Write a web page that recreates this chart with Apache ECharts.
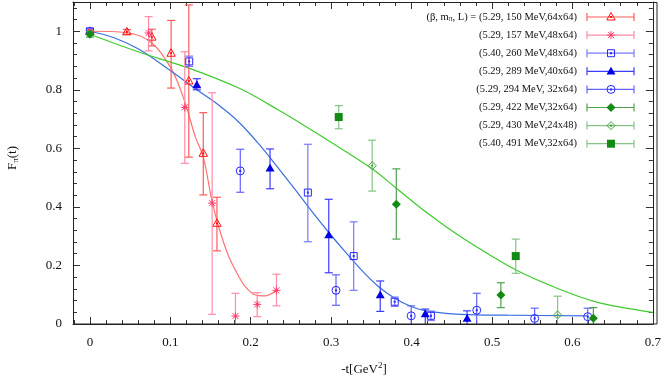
<!DOCTYPE html>
<html><head><meta charset="utf-8">
<script src="https://cdn.jsdelivr.net/npm/echarts@6/dist/echarts.min.js"></script>
<style>html,body{margin:0;padding:0;background:#fff}#c{width:664px;height:382px}</style>
</head><body><div id="c"></div>
<script>
// ---- data: [x, y, errLow, errHigh] ----
const xTicks = [0, 0.1, 0.2, 0.3, 0.4, 0.5, 0.6, 0.7];
const yTicks = [0, 0.2, 0.4, 0.6, 0.8, 1];
const legendLabels = [
  '(5.29, 150 MeV,64x64)', '(5.29, 157 MeV,48x64)', '(5.40, 260 MeV,48x64)', '(5.29, 289 MeV,40x64)',
  '(5.29, 294 MeV, 32x64)', '(5.29, 422 MeV,32x64)', '(5.29, 430 MeV,24x48)', '(5.40, 491 MeV,32x64)'
];
const s150 = [[0,1.0,0.995,1.005],[0.046,0.998,0.99,1.006],[0.077,0.98,0.95,1.007],[0.101,0.925,0.806,1.037],[0.123,0.83,0.57,1.09],[0.141,0.583,0.441,0.722],[0.158,0.344,0.25,0.433]];
const s157 = [[0.073,0.994,0.933,1.05],[0.118,0.74,0.549,0.93],[0.152,0.413,0.033,0.79],[0.181,0.027,-0.02,0.105],[0.208,0.067,0.025,0.107],[0.232,0.115,0.062,0.17]];
const s260 = [[0,1.0,0.99,1.01],[0.1235,0.897,0.88,0.915],[0.271,0.449,0.281,0.614],[0.328,0.232,0.115,0.349],[0.379,0.076,0.06,0.092],[0.424,0.028,0.012,0.044]];
const s289 = [[0.133,0.817,0.80,0.838],[0.224,0.532,0.462,0.598],[0.297,0.304,0.175,0.426],[0.361,0.099,0.043,0.147],[0.417,0.034,-0.01,0.051],[0.469,0.019,-0.01,0.045]];
const s294 = [[0.187,0.523,0.45,0.597],[0.306,0.115,0.064,0.168],[0.3995,0.028,-0.01,0.062],[0.481,0.047,-0.01,0.105],[0.553,0.019,-0.01,0.054],[0.619,0.025,-0.01,0.054]];
const s422 = [[0,0.99,0.98,1.0],[0.381,0.409,0.29,0.53],[0.511,0.099,0.056,0.141],[0.626,0.02,-0.01,0.056]];
const s430 = [[0.351,0.541,0.454,0.628],[0.5815,0.031,-0.01,0.095]];
const s491 = [[0.3094,0.707,0.667,0.746],[0.5295,0.232,0.173,0.29]];
// fit curves
const curveRed = [[0,1.0],[0.046,0.995],[0.077,0.96],[0.102,0.868],[0.1185,0.755],[0.131,0.64],[0.141,0.57],[0.1516,0.424],[0.16,0.333],[0.172,0.235],[0.1846,0.165],[0.193,0.128],[0.205,0.1],[0.218,0.096],[0.232,0.116]];
const curveBlue = [[0,1.0],[0.03,0.978],[0.06,0.94],[0.1,0.866],[0.133,0.8],[0.16,0.748],[0.185,0.69],[0.21,0.615],[0.235,0.53],[0.255,0.46],[0.275,0.388],[0.296,0.316],[0.317,0.248],[0.3375,0.185],[0.358,0.13],[0.379,0.088],[0.4,0.059],[0.42,0.044],[0.461,0.033],[0.52,0.03],[0.618,0.028]];
const curveGreen = [[0,0.99],[0.06,0.93],[0.123,0.874],[0.185,0.806],[0.234,0.732],[0.28,0.655],[0.35,0.532],[0.381,0.464],[0.42,0.378],[0.46,0.3],[0.5295,0.185],[0.581,0.122],[0.63,0.075],[0.7,0.04]];

const FONT = 'Liberation Serif';
const sets = [
  {d:s150, kind:'triOpen', mc:'#ff1010', bc:'#ff5a5a'},
  {d:s157, kind:'star',    mc:'#ff3c6e', bc:'#ff8ca6'},
  {d:s260, kind:'sqOpen',  mc:'#2828ff', bc:'#7878ff'},
  {d:s289, kind:'triFill', mc:'#0000e6', bc:'#3c3cff'},
  {d:s294, kind:'circOpen',mc:'#2828ff', bc:'#6464ff'},
  {d:s422, kind:'diaFill', mc:'#138a13', bc:'#4fa34f'},
  {d:s430, kind:'diaOpen', mc:'#3ca03c', bc:'#86c486'},
  {d:s491, kind:'sqFill',  mc:'#138a13', bc:'#86c486'}
];

function seg(x1,y1,x2,y2,st){ return {type:'line', shape:{x1:x1,y1:y1,x2:x2,y2:y2}, style:st}; }
function marker(kind, cx, cy, c) {
  const st = {stroke:c, fill:null, lineWidth:1};
  const dot = {type:'rect', shape:{x:cx-1,y:cy-1,width:2,height:2}, style:{fill:c}};
  switch(kind) {
    case 'triOpen': return [{type:'polygon', shape:{points:[[cx,cy-4.5],[cx+4.2,cy+3],[cx-4.2,cy+3]]}, style:st}, dot];
    case 'triFill': return [{type:'polygon', shape:{points:[[cx,cy-4.5],[cx+4.5,cy+3.3],[cx-4.5,cy+3.3]]}, style:{fill:c}}];
    case 'star': return [seg(cx-4,cy,cx+4,cy,st), seg(cx,cy-4,cx,cy+4,st), seg(cx-3,cy-3,cx+3,cy+3,st), seg(cx-3,cy+3,cx+3,cy-3,st), dot];
    case 'sqOpen': return [{type:'rect', shape:{x:cx-3.5,y:cy-3.5,width:7,height:7}, style:st}, dot];
    case 'sqFill': return [{type:'rect', shape:{x:cx-4,y:cy-4,width:8,height:8}, style:{fill:c}}];
    case 'circOpen': return [{type:'circle', shape:{cx:cx,cy:cy,r:4}, style:st}, dot];
    case 'diaFill': return [{type:'polygon', shape:{points:[[cx,cy-4.5],[cx+4.5,cy],[cx,cy+4.5],[cx-4.5,cy]]}, style:{fill:c}}];
    case 'diaOpen': return [{type:'polygon', shape:{points:[[cx,cy-4],[cx+4,cy],[cx,cy+4],[cx-4,cy]]}, style:st}, dot];
  }
}

function errSeries(set) {
  return {
    type:'custom', xAxisIndex:0, yAxisIndex:0, clip:true, z:5,
    data:set.d,
    renderItem:(params, api) => {
      const p = api.coord([api.value(0), api.value(1)]);
      const pl = api.coord([api.value(0), api.value(2)]);
      const ph = api.coord([api.value(0), api.value(3)]);
      const ls = {stroke:set.bc, lineWidth:1.2};
      const ch = [
        seg(pl[0],pl[1],ph[0],ph[1],ls),
        seg(pl[0]-4,pl[1],pl[0]+4,pl[1],ls),
        seg(ph[0]-4,ph[1],ph[0]+4,ph[1],ls)
      ].concat(marker(set.kind, p[0], p[1], set.mc));
      return {type:'group', children:ch};
    }
  };
}

function curve(data, color) {
  return {type:'line', data:data, smooth:0.35, symbol:'none', xAxisIndex:0, yAxisIndex:0, z:3,
    lineStyle:{color:color, width:1.2}, clip:true};
}

function minorList(a, b, step) { const r=[]; for (let v=a; v<=b+1e-9; v+=step) r.push(+v.toFixed(4)); return r; }
const xMinor = minorList(-0.02, 0.7, 0.02);
const yMinor = minorList(0, 1.08, 0.04);
const XMIN = -0.021, XMAX = 0.7, YMIN = 0, YMAX = 1.1;

function xAx(pos, major, labels) {
  return {type:'value', min:XMIN, max:XMAX, position:pos, offset:0,
    axisLine:{show:major, onZero:false, lineStyle:{color:'#222', width:1}},
    axisTick:{show:true, inside:true, length: major?7:4, customValues: major?xTicks:xMinor, lineStyle:{color:'#333'}},
    axisLabel:{show:labels, customValues:xTicks, margin:12, color:'#111', fontFamily:FONT, fontSize:13,
      formatter:v=>String(+(+v).toFixed(1))},
    splitLine:{show:false}};
}
function yAx(pos, major, labels) {
  return {type:'value', min:YMIN, max:YMAX, position:pos, offset:0,
    axisLine:{show:major, onZero:false, lineStyle:{color:'#222', width:1}},
    axisTick:{show:true, inside:true, length: major?7:4, customValues: major?yTicks:yMinor, lineStyle:{color:'#333'}},
    axisLabel:{show:labels, customValues:yTicks, margin:11, color:'#111', fontFamily:FONT, fontSize:13,
      formatter:v=>String(+(+v).toFixed(1))},
    splitLine:{show:false}};
}

// legend graphic
const legendEls = [];
const LX = 577, L1 = 587, L2 = 634, LM = 611;
sets.forEach((s, i) => {
  const y = 17 + 18.1 * i;
  let text;
  if (i === 0) {
    text = {type:'text', x:LX, y:y, style:{text:'{n|(β, m}{s|π}{n|, L) = ' + legendLabels[0] + '}',
      align:'right', verticalAlign:'middle',
      rich:{n:{fontFamily:FONT, fontSize:10.5, fill:'#111'}, s:{fontFamily:FONT, fontSize:7.5, fill:'#111', padding:[5,0,0,0]}}}};
  } else {
    text = {type:'text', x:LX, y:y, style:{text:legendLabels[i], align:'right', verticalAlign:'middle', font:`10.5px "${FONT}"`, fill:'#111'}};
  }
  legendEls.push(text);
  const ls = {stroke:s.bc, lineWidth:1.2};
  legendEls.push(seg(L1,y,L2,y,ls));
  legendEls.push(seg(L1,y-4,L1,y+4,ls));
  legendEls.push(seg(L2,y-4,L2,y+4,ls));
  marker(s.kind, LM, y, s.mc).forEach(e => legendEls.push(e));
});
legendEls.push({type:'text', x:13, y:158, rotation:Math.PI/2,
  style:{text:'{n|F}{s|π}{n|(t)}', align:'center', verticalAlign:'middle',
    rich:{n:{fontFamily:FONT, fontSize:13, fill:'#111'}, s:{fontFamily:FONT, fontSize:9, fill:'#111', padding:[6,0,0,0]}}}});
legendEls.push({type:'text', x:364, y:370,
  style:{text:'{n|-t[GeV}{s|2}{n|]}', align:'center', verticalAlign:'middle',
    rich:{n:{fontFamily:FONT, fontSize:13, fill:'#111'}, s:{fontFamily:FONT, fontSize:9, fill:'#111', padding:[0,0,8,0]}}}});
// plot frame (box border)
legendEls.push({type:'rect', shape:{x:73.5, y:2.5, width:583.5, height:321.5}, style:{stroke:'#222', fill:null, lineWidth:1}, z:100, silent:true});

const chart = echarts.init(document.getElementById('c'), null, {renderer:'canvas'});
chart.setOption({
  animation:false,
  backgroundColor:'#fff',
  grid:{left:73, right:7, top:2, bottom:58},
  xAxis:[xAx('bottom',true,true), xAx('bottom',false,false), xAx('top',true,false), xAx('top',false,false)],
  yAxis:[yAx('left',true,true), yAx('left',false,false), yAx('right',true,false), yAx('right',false,false)],
  graphic:legendEls,
  series:[curve(curveRed,'#ff7373'), curve(curveBlue,'#3a6ee0'), curve(curveGreen,'#3ccc2c')]
    .concat(sets.map(errSeries))
});
</script></body></html>
